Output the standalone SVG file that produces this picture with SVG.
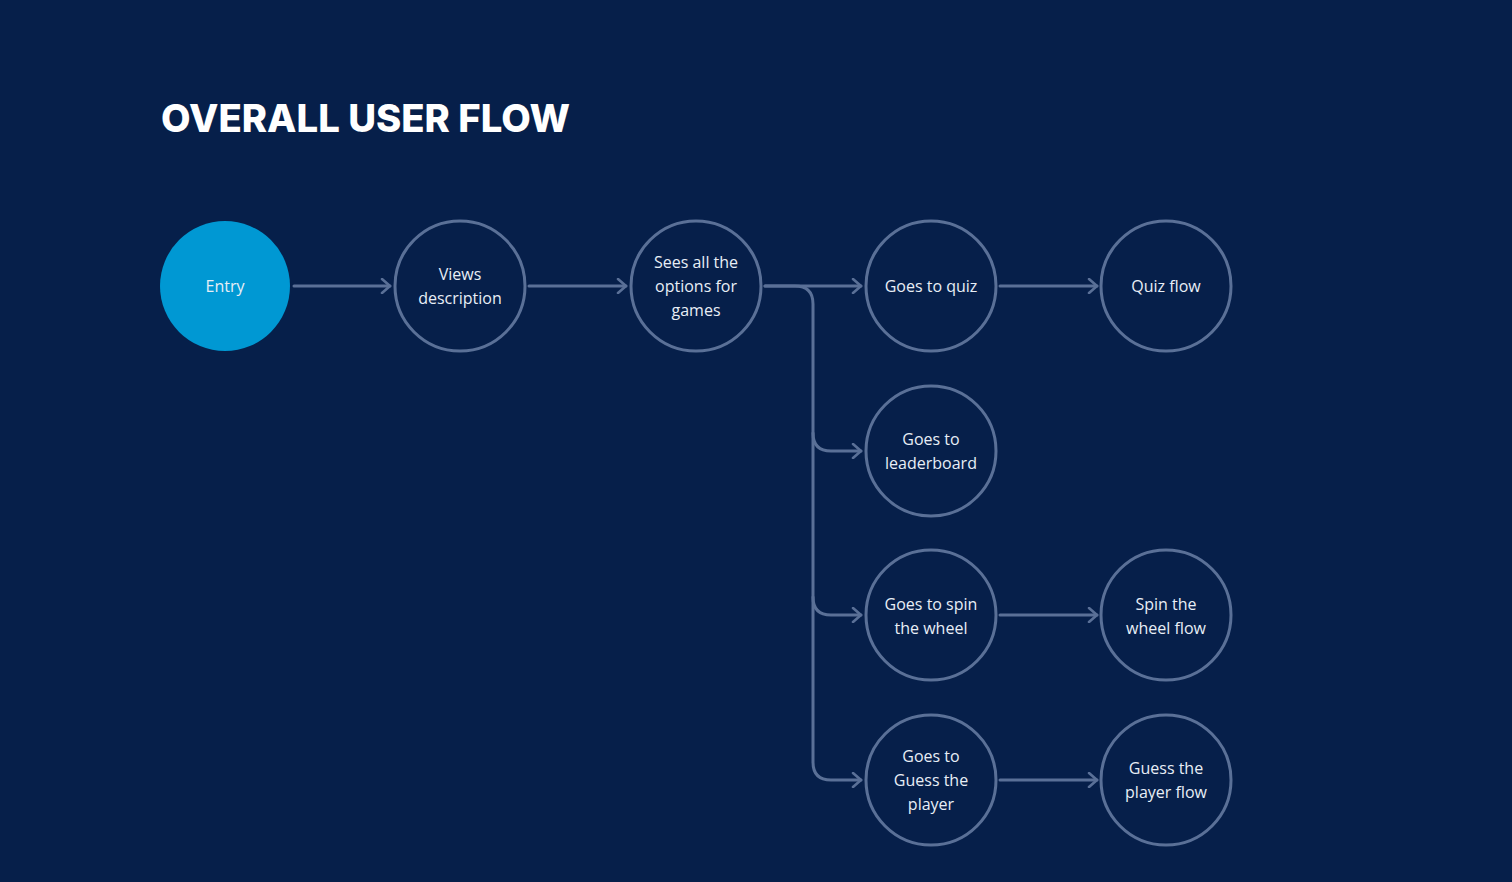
<svg xmlns="http://www.w3.org/2000/svg" width="1512" height="882" viewBox="0 0 1512 882">
<defs>
<style>
.node{fill:none;stroke:#5a7097;stroke-width:3}
.entry{fill:#0098d3}
.lbl{font-family:"Open Sans","Noto Sans",sans-serif;font-size:16px;fill:#e8eef6;text-anchor:middle}
.title{font-family:Inter,"Liberation Sans",sans-serif;font-weight:800;font-size:38px;fill:#ffffff}
.con{fill:none;stroke:#5a7097;stroke-width:3;stroke-linecap:round;stroke-linejoin:round}
</style>
<marker id="arr" viewBox="0 0 12 16" refX="10" refY="8" markerWidth="12" markerHeight="16" markerUnits="userSpaceOnUse" orient="auto">
<path d="M2,1 L10,8 L2,15" fill="none" stroke="#5a7097" stroke-width="2.6" stroke-linecap="round" stroke-linejoin="round"/>
</marker>
</defs>
<rect width="1512" height="882" fill="#061f4a"/>
<text class="title" x="161" y="132" textLength="409" lengthAdjust="spacingAndGlyphs">OVERALL USER FLOW</text>
<g id="connectors">
<path class="con" d="M294,286 H390" marker-end="url(#arr)"/>
<path class="con" d="M529,286 H626" marker-end="url(#arr)"/>
<path class="con" d="M765,286 H861" marker-end="url(#arr)"/>
<path class="con" d="M1000,286 H1097" marker-end="url(#arr)"/>
<path class="con" d="M765,286 H795 Q813,286 813,304 V762 Q813,780 831,780 H861" marker-end="url(#arr)"/>
<path class="con" d="M813,433 Q813,451 831,451 H861" marker-end="url(#arr)"/>
<path class="con" d="M813,597 Q813,615 831,615 H861" marker-end="url(#arr)"/>
<path class="con" d="M1000,615 H1097" marker-end="url(#arr)"/>
<path class="con" d="M1000,780 H1097" marker-end="url(#arr)"/>
</g>
<g id="entry"><circle class="entry" cx="225" cy="286" r="65"/><text class="lbl" x="225" y="292">Entry</text></g>
<g id="views"><circle class="node" cx="460" cy="286" r="65"/><text class="lbl" x="460" y="280">Views</text><text class="lbl" x="460" y="304">description</text></g>
<g id="sees"><circle class="node" cx="696" cy="286" r="65"/><text class="lbl" x="696" y="268">Sees all the</text><text class="lbl" x="696" y="292">options for</text><text class="lbl" x="696" y="316">games</text></g>
<g id="quiz"><circle class="node" cx="931" cy="286" r="65"/><text class="lbl" x="931" y="292">Goes to quiz</text></g>
<g id="quizflow"><circle class="node" cx="1166" cy="286" r="65"/><text class="lbl" x="1166" y="292">Quiz flow</text></g>
<g id="leaderboard"><circle class="node" cx="931" cy="451" r="65"/><text class="lbl" x="931" y="445">Goes to</text><text class="lbl" x="931" y="469">leaderboard</text></g>
<g id="spin"><circle class="node" cx="931" cy="615" r="65"/><text class="lbl" x="931" y="610">Goes to spin</text><text class="lbl" x="931" y="634">the wheel</text></g>
<g id="spinflow"><circle class="node" cx="1166" cy="615" r="65"/><text class="lbl" x="1166" y="610">Spin the</text><text class="lbl" x="1166" y="634">wheel flow</text></g>
<g id="guess"><circle class="node" cx="931" cy="780" r="65"/><text class="lbl" x="931" y="762">Goes to</text><text class="lbl" x="931" y="786">Guess the</text><text class="lbl" x="931" y="810">player</text></g>
<g id="guessflow"><circle class="node" cx="1166" cy="780" r="65"/><text class="lbl" x="1166" y="774">Guess the</text><text class="lbl" x="1166" y="798">player flow</text></g>
</svg>
